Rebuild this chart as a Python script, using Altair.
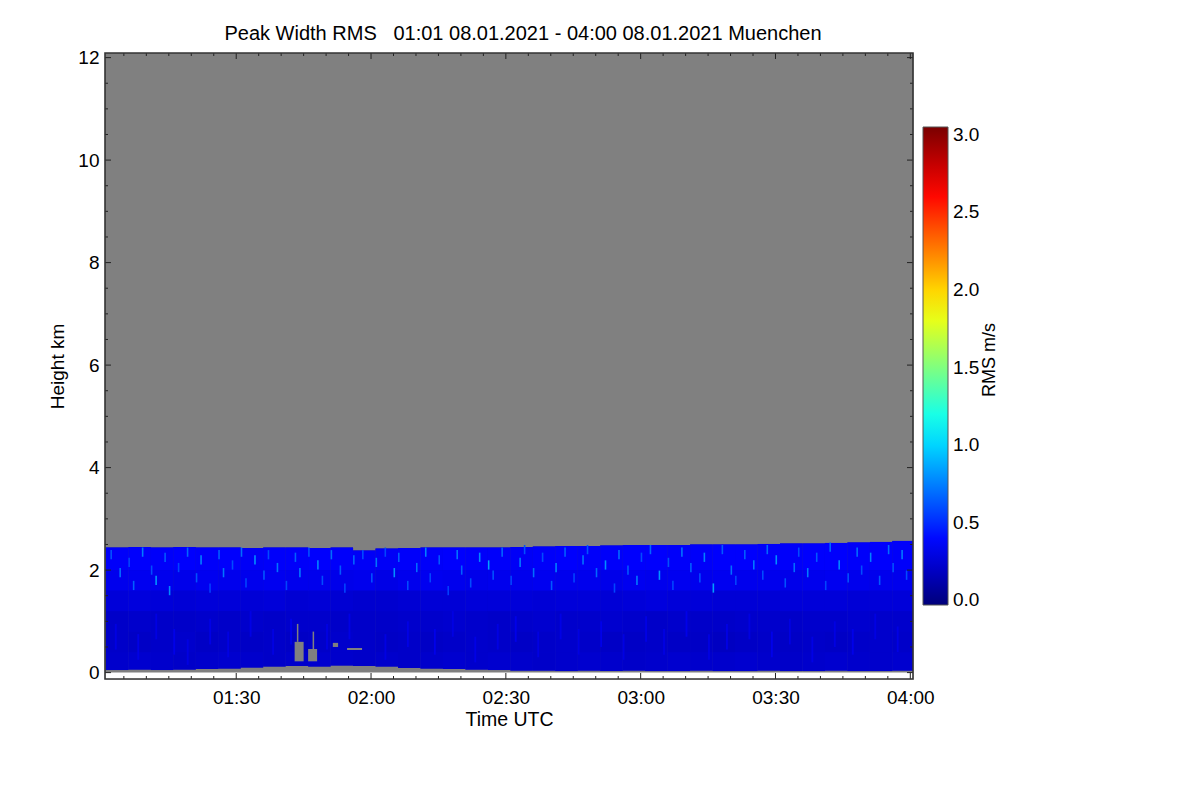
import altair as alt
import pandas as pd

# ---------------- data ----------------
title_text = "Peak Width RMS\u00a0\u00a0 01:01 08.01.2021 - 04:00 08.01.2021 Muenchen"

x_range = ["01:00:48", "04:00:36"]          # time axis range
y_range_km = [-0.125, 12.09]                # height axis range
radar_range_km = [0.0, 12.09]               # region where measurements are possible (grey = no data)

x_major_labels = ["01:30", "02:00", "02:30", "03:00", "03:30", "04:00"]
x_minor_ticks = ["01:05", "01:10", "01:15", "01:20", "01:25", "01:35", "01:40", "01:45",
                 "01:50", "01:55", "02:05", "02:10", "02:15", "02:20", "02:25", "02:35",
                 "02:40", "02:45", "02:50", "02:55", "03:05", "03:10", "03:15", "03:20",
                 "03:25", "03:35", "03:40", "03:45", "03:50", "03:55"]
y_major_ticks = [0, 2, 4, 6, 8, 10, 12]
y_minor_ticks = [0.5, 1, 1.5, 2.5, 3, 3.5, 4.5, 5, 5.5, 6.5, 7, 7.5, 8.5, 9, 9.5,
                 10.5, 11, 11.5]
colorbar_labels = [0.0, 0.5, 1.0, 1.5, 2.0, 2.5, 3.0]

# jet colour table (RMS m/s)
jet_domain = [-0.03, 0.375, 1.125, 1.875, 2.625, 3.05]
jet_colors = ["#00007A", "#0000FF", "#00FFFF", "#FFFF00", "#FF0000", "#7A0000"]

# 5-minute columns
col_start = ["01:01", "01:06", "01:11", "01:16", "01:21", "01:26", "01:31", "01:36",
             "01:41", "01:46", "01:51", "01:56", "02:01", "02:06", "02:11", "02:16",
             "02:21", "02:26", "02:31", "02:36", "02:41", "02:46", "02:51", "02:56",
             "03:01", "03:06", "03:11", "03:16", "03:21", "03:26", "03:31", "03:36",
             "03:41", "03:46", "03:51", "03:56"]
col_minutes = 5
top_km = [2.44, 2.45, 2.44, 2.45, 2.44, 2.44, 2.43, 2.44, 2.44, 2.43, 2.44, 2.38,
          2.42, 2.43, 2.44, 2.44, 2.44, 2.44, 2.45, 2.46, 2.47, 2.47, 2.48, 2.49,
          2.49, 2.49, 2.50, 2.50, 2.50, 2.51, 2.52, 2.52, 2.53, 2.54, 2.55, 2.57]
bottom_km = [0.05, 0.06, 0.05, 0.06, 0.07, 0.08, 0.10, 0.12, 0.13, 0.12, 0.14, 0.13,
             0.12, 0.09, 0.08, 0.07, 0.06, 0.05, 0.04, 0.04, 0.03, 0.04, 0.03, 0.04,
             0.03, 0.03, 0.04, 0.03, 0.03, 0.04, 0.03, 0.03, 0.04, 0.03, 0.03, 0.04]
layer_bounds_km = [0.4, 0.8, 1.2, 1.6, 2.0]

rms_l1 = [0.22, 0.23, 0.22, 0.21, 0.22, 0.23, 0.22, 0.21, 0.22, 0.23, 0.22, 0.21,
          0.22, 0.21, 0.22, 0.23, 0.22, 0.23, 0.22, 0.21, 0.22, 0.23, 0.22, 0.21,
          0.22, 0.23, 0.22, 0.22, 0.23, 0.22, 0.21, 0.22, 0.23, 0.22, 0.22, 0.23]
rms_l2 = [0.21, 0.20, 0.21, 0.22, 0.20, 0.21, 0.20, 0.21, 0.20, 0.21, 0.22, 0.21,
          0.20, 0.21, 0.20, 0.21, 0.22, 0.21, 0.20, 0.21, 0.22, 0.21, 0.20, 0.20,
          0.21, 0.20, 0.20, 0.19, 0.20, 0.21, 0.20, 0.21, 0.20, 0.21, 0.22, 0.21]
rms_l3 = [0.21, 0.22, 0.21, 0.21, 0.22, 0.21, 0.22, 0.21, 0.22, 0.22, 0.21, 0.21,
          0.21, 0.22, 0.22, 0.23, 0.22, 0.21, 0.22, 0.23, 0.22, 0.22, 0.23, 0.22,
          0.21, 0.22, 0.21, 0.21, 0.22, 0.22, 0.21, 0.22, 0.22, 0.23, 0.22, 0.22]
rms_l4 = [0.26, 0.27, 0.26, 0.25, 0.26, 0.26, 0.25, 0.26, 0.24, 0.25, 0.24, 0.23,
          0.23, 0.24, 0.25, 0.25, 0.26, 0.26, 0.26, 0.25, 0.26, 0.26, 0.25, 0.26,
          0.27, 0.26, 0.26, 0.25, 0.25, 0.25, 0.26, 0.26, 0.26, 0.25, 0.26, 0.26]
rms_l5 = [0.32, 0.33, 0.32, 0.31, 0.33, 0.32, 0.32, 0.33, 0.32, 0.32, 0.31, 0.32,
          0.30, 0.32, 0.33, 0.32, 0.31, 0.32, 0.32, 0.33, 0.32, 0.32, 0.31, 0.33,
          0.32, 0.33, 0.32, 0.33, 0.32, 0.32, 0.31, 0.32, 0.33, 0.32, 0.32, 0.32]
rms_l6 = [0.36, 0.37, 0.36, 0.37, 0.36, 0.37, 0.35, 0.36, 0.36, 0.37, 0.36, 0.35,
          0.35, 0.36, 0.36, 0.37, 0.36, 0.36, 0.35, 0.36, 0.37, 0.36, 0.36, 0.37,
          0.37, 0.36, 0.36, 0.37, 0.37, 0.36, 0.36, 0.37, 0.37, 0.36, 0.37, 0.36]

# light-blue streaks in the upper echo: (time, height km, rms)
specks = [("01:02", 2.30, .62), ("01:04", 1.95, .70), ("01:06", 2.15, .58), ("01:07", 1.70, .66),
          ("01:09", 2.35, .74), ("01:11", 2.00, .60), ("01:12", 1.80, .82), ("01:14", 2.25, .64),
          ("01:15", 1.60, .78), ("01:17", 2.05, .58), ("01:19", 2.35, .68), ("01:21", 1.85, .62),
          ("01:22", 2.20, .76), ("01:24", 1.65, .56), ("01:26", 2.30, .66), ("01:27", 1.95, .72),
          ("01:29", 2.10, .60), ("01:31", 2.35, .70), ("01:32", 1.75, .58), ("01:34", 2.20, .80),
          ("01:36", 1.90, .64), ("01:37", 2.30, .60), ("01:39", 2.05, .72), ("01:41", 1.70, .58),
          ("01:43", 2.25, .66), ("01:44", 1.95, .74), ("01:46", 2.35, .62), ("01:48", 2.10, .78),
          ("01:49", 1.80, .60), ("01:51", 2.30, .70), ("01:53", 2.00, .64), ("01:54", 1.65, .58),
          ("01:56", 2.20, .68), ("01:58", 2.30, .60), ("02:00", 1.85, .62), ("02:01", 2.15, .72),
          ("02:03", 2.35, .58), ("02:05", 1.95, .80), ("02:06", 2.25, .66), ("02:08", 1.70, .60),
          ("02:10", 2.05, .70), ("02:12", 2.35, .76), ("02:13", 1.85, .58), ("02:15", 2.20, .64),
          ("02:17", 1.60, .56), ("02:19", 2.30, .72), ("02:20", 2.00, .66), ("02:22", 1.75, .60),
          ("02:24", 2.25, .78), ("02:26", 2.10, .86), ("02:27", 1.90, .62), ("02:29", 2.35, .68),
          ("02:31", 1.80, .58), ("02:33", 2.15, .74), ("02:34", 2.40, .62), ("02:36", 1.95, .70),
          ("02:38", 2.25, .60), ("02:40", 1.70, .64), ("02:41", 2.05, .76), ("02:43", 2.35, .66),
          ("02:45", 1.85, .58), ("02:47", 2.20, .72), ("02:48", 2.40, .62), ("02:50", 1.95, .68),
          ("02:52", 2.10, .80), ("02:54", 1.65, .58), ("02:55", 2.30, .70), ("02:57", 2.00, .64),
          ("02:59", 1.80, .74), ("03:00", 2.25, .60), ("03:02", 2.40, .68), ("03:04", 1.90, .82),
          ("03:06", 2.15, .62), ("03:07", 1.70, .58), ("03:09", 2.35, .72), ("03:11", 2.05, .66),
          ("03:13", 1.85, .60), ("03:14", 2.25, .76), ("03:16", 1.65, .84), ("03:18", 2.40, .64),
          ("03:20", 2.00, .70), ("03:21", 1.80, .58), ("03:23", 2.30, .66), ("03:25", 2.10, .74),
          ("03:27", 1.90, .60), ("03:28", 2.40, .68), ("03:30", 2.20, .80), ("03:32", 1.75, .62),
          ("03:34", 2.05, .70), ("03:35", 2.35, .60), ("03:37", 1.95, .74), ("03:39", 2.25, .64),
          ("03:41", 1.70, .58), ("03:42", 2.45, .68), ("03:44", 2.10, .78), ("03:46", 1.85, .62),
          ("03:48", 2.35, .70), ("03:49", 2.00, .60), ("03:51", 2.25, .76), ("03:53", 1.80, .64),
          ("03:55", 2.40, .70), ("03:56", 2.05, .62), ("03:58", 2.30, .74), ("03:59", 1.90, .60)]

# slightly brighter streaks in the lower echo: (time, centre height km, rms)
low_streaks = [("01:03", 0.70, .29), ("01:08", 0.50, .30), ("01:12", 0.90, .29), ("01:16", 0.60, .31),
               ("01:19", 0.40, .29), ("01:24", 0.80, .30), ("01:28", 0.55, .29), ("01:33", 0.95, .30),
               ("01:38", 0.60, .29), ("01:42", 0.80, .31), ("01:50", 0.70, .29), ("01:55", 0.90, .30),
               ("02:03", 0.50, .29), ("02:08", 0.75, .30), ("02:14", 0.60, .31), ("02:18", 0.95, .29),
               ("02:23", 0.45, .30), ("02:28", 0.70, .29), ("02:32", 0.85, .31), ("02:37", 0.55, .29),
               ("02:42", 0.90, .30), ("02:46", 0.60, .29), ("02:51", 0.75, .31), ("02:56", 0.50, .29),
               ("03:01", 0.85, .30), ("03:05", 0.60, .29), ("03:10", 0.95, .31), ("03:15", 0.50, .29),
               ("03:19", 0.70, .30), ("03:24", 0.90, .29), ("03:29", 0.55, .31), ("03:33", 0.80, .29),
               ("03:38", 0.45, .30), ("03:43", 0.75, .29), ("03:47", 0.60, .31), ("03:52", 0.90, .29),
               ("03:57", 0.65, .30)]

# missing-data patches inside the echo: (start, end, bottom km, top km)
gaps = [("01:43:00", "01:45:00", 0.22, 0.60), ("01:43:30", "01:43:50", 0.60, 0.95),
        ("01:46:00", "01:48:00", 0.22, 0.46), ("01:47:00", "01:47:20", 0.46, 0.80),
        ("01:54:40", "01:58:00", 0.44, 0.48), ("01:51:30", "01:52:40", 0.50, 0.58)]

# ---------------- helpers ----------------
def tmin(s):
    parts = [int(p) for p in s.split(":")]
    m = parts[0] * 60 + parts[1]
    if len(parts) > 2:
        m += parts[2] / 60.0
    return m

x_dom = [tmin(x_range[0]), tmin(x_range[1])]
W, H = 808, 626
FONT = "Liberation Sans"
GREY = "#808080"
INK = "#222222"
SPECK_W_MIN = 0.35
SPECK_H_KM = 0.18
STREAK_W_MIN = 0.4
STREAK_H_KM = 0.5

layers_vals = [rms_l1, rms_l2, rms_l3, rms_l4, rms_l5, rms_l6]
cells = []
base = []
for i, t in enumerate(col_start):
    t0 = tmin(t)
    edges = [bottom_km[i]] + layer_bounds_km + [top_km[i]]
    base.append({"t0": t0, "t1": t0 + col_minutes, "h0": bottom_km[i], "h1": top_km[i],
                 "rms": rms_l3[i]})
    for j, vals in enumerate(layers_vals):
        cells.append({"t0": t0, "t1": t0 + col_minutes, "h0": edges[j], "h1": edges[j + 1],
                      "rms": vals[i]})
cells_df = pd.DataFrame(cells)
base_df = pd.DataFrame(base)

def small_rects(items, w, h):
    return pd.DataFrame([{"t0": tmin(t), "t1": tmin(t) + w,
                          "h0": c - h / 2, "h1": c + h / 2, "rms": v} for t, c, v in items])

speck_df = pd.concat([small_rects(low_streaks, STREAK_W_MIN, STREAK_H_KM),
                      small_rects(specks, SPECK_W_MIN, SPECK_H_KM)], ignore_index=True)
gap_df = pd.DataFrame([{"t0": tmin(a), "t1": tmin(b), "h0": h0, "h1": h1}
                       for a, b, h0, h1 in gaps])
bg_df = pd.DataFrame([{"t0": x_dom[0], "t1": x_dom[1],
                       "h0": radar_range_km[0], "h1": radar_range_km[1]}])

xmaj_df = pd.DataFrame({"t0": [tmin(s) for s in x_major_labels]})
xmin_df = pd.DataFrame({"t0": [tmin(s) for s in x_minor_ticks]})
ymaj_df = pd.DataFrame({"h0": y_major_ticks})
ymin_df = pd.DataFrame({"h0": y_minor_ticks})

# ---------------- encodings ----------------
x_scale = alt.Scale(domain=x_dom, nice=False, zero=False)
y_scale = alt.Scale(domain=y_range_km, nice=False, zero=False)
x_axis = alt.Axis(values=[tmin(s) for s in x_major_labels],
                  labelExpr="utcFormat(datum.value*60000, '%H:%M')",
                  ticks=False, domain=False, grid=False, labelFlush=False,
                  labelFontSize=19, labelPadding=9, labelColor="black", labelFont=FONT,
                  title="Time UTC", titleFontSize=19.5, titleFontWeight="normal",
                  titleFont=FONT, titleColor="black", titleY=40, titleBaseline="middle")
y_axis = alt.Axis(values=y_major_ticks, ticks=False, domain=False, grid=False,
                  labelFlush=False, labelFontSize=19, labelPadding=6, labelColor="black",
                  labelFont=FONT, title="Height km", titleFontSize=19,
                  titleFontWeight="normal", titleFont=FONT, titleColor="black",
                  titleX=-48, titleBaseline="middle")
X = alt.X("t0:Q", scale=x_scale, axis=x_axis, title="Time UTC")
Y = alt.Y("h0:Q", scale=y_scale, axis=y_axis, title="Height km")
jet = alt.Scale(domain=jet_domain, range=jet_colors, interpolate="rgb", clamp=True)
color = alt.Color("rms:Q", scale=jet,
                  legend=alt.Legend(type="gradient", orient="none", legendX=818, legendY=74,
                                    direction="vertical", gradientLength=478,
                                    gradientThickness=25, values=colorbar_labels,
                                    format=".1f", labelFontSize=19, labelFont=FONT,
                                    labelColor="black", labelOffset=5,
                                    gradientStrokeColor="#555555", gradientStrokeWidth=1,
                                    title=None))

background = alt.Chart(bg_df).mark_rect(color=GREY, clip=True).encode(
    x=X, x2="t1", y=Y, y2="h1")
base_layer = alt.Chart(base_df).mark_rect(clip=True).encode(
    x=X, x2="t1", y=Y, y2="h1", color=color)
heat = alt.Chart(cells_df).mark_rect(clip=True).encode(
    x=X, x2="t1", y=Y, y2="h1", color=color)
speck_layer = alt.Chart(speck_df).mark_rect(clip=True).encode(
    x=X, x2="t1", y=Y, y2="h1", color=color)
gap_layer = alt.Chart(gap_df).mark_rect(color=GREY, clip=True).encode(
    x=X, x2="t1", y=Y, y2="h1")

MAJ, MIN = 6, 3
ticks = [
    alt.Chart(xmaj_df).mark_rule(color=INK).encode(x=X, y=alt.value(H), y2=alt.value(H - MAJ)),
    alt.Chart(xmin_df).mark_rule(color=INK).encode(x=X, y=alt.value(H), y2=alt.value(H - MIN)),
    alt.Chart(xmaj_df).mark_rule(color=INK).encode(x=X, y=alt.value(0), y2=alt.value(MAJ)),
    alt.Chart(xmin_df).mark_rule(color=INK).encode(x=X, y=alt.value(0), y2=alt.value(MIN)),
    alt.Chart(ymaj_df).mark_rule(color=INK).encode(y=Y, x=alt.value(0), x2=alt.value(MAJ)),
    alt.Chart(ymin_df).mark_rule(color=INK).encode(y=Y, x=alt.value(0), x2=alt.value(MIN)),
    alt.Chart(ymaj_df).mark_rule(color=INK).encode(y=Y, x=alt.value(W), x2=alt.value(W - MAJ)),
    alt.Chart(ymin_df).mark_rule(color=INK).encode(y=Y, x=alt.value(W), x2=alt.value(W - MIN)),
]
frame = alt.Chart(pd.DataFrame({"f": [0]})).mark_rect(
    fillOpacity=0, stroke="#333333", strokeWidth=1.6).encode(
    x=alt.value(0), x2=alt.value(W), y=alt.value(0), y2=alt.value(H))
cbar_title = alt.Chart(pd.DataFrame({"label": ["RMS m/s"]})).mark_text(
    angle=270, fontSize=18, font=FONT, color="black").encode(
    x=alt.value(885), y=alt.value(307), text="label:N")

chart = alt.layer(background, base_layer, heat, speck_layer, gap_layer, *ticks, frame,
                  cbar_title).properties(
    width=W, height=H,
    padding={"left": 97, "top": 45, "right": 270, "bottom": 100},
    autosize=alt.AutoSizeParams(type="none"),
    title=alt.TitleParams(text=title_text, fontSize=20, font=FONT, fontWeight="normal",
                          color="black", anchor="middle", dx=14, offset=5),
).configure_view(strokeWidth=0).configure(font=FONT)

chart.save("out.html", embed_options={"renderer": "svg", "actions": False})
